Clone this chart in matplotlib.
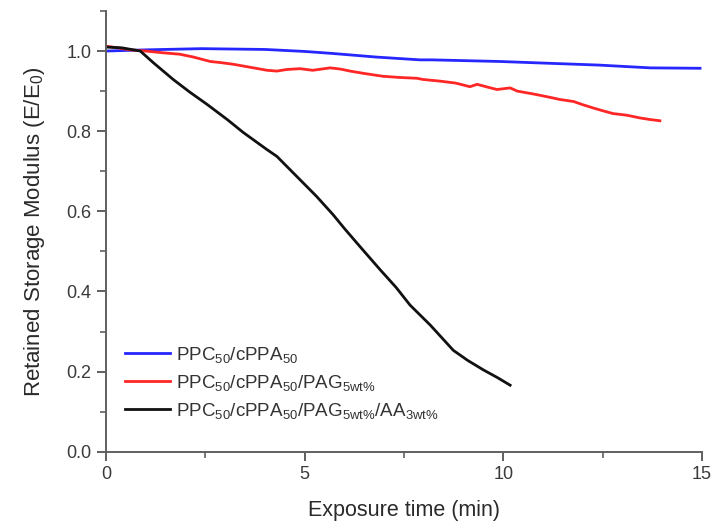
import matplotlib
matplotlib.use("Agg")
import matplotlib.pyplot as plt
from matplotlib.ticker import MultipleLocator

plt.rcParams['font.family'] = ['Liberation Sans', 'DejaVu Sans']
plt.rcParams['mathtext.default'] = 'regular'

# Data
t_blue = [0.0, 1.0, 2.4, 4.0, 5.0, 5.7, 6.8, 7.9, 8.2, 9.9, 11.0, 12.4, 13.7, 14.95]
v_blue = [1.0, 1.003, 1.006, 1.004, 0.999, 0.994, 0.985, 0.978, 0.978, 0.974, 0.970, 0.965, 0.958, 0.957]

t_red = [0.0, 0.3, 0.6, 1.0, 1.4, 1.86, 2.2, 2.62, 2.9, 3.2, 3.6, 4.05, 4.3, 4.55, 4.88, 5.2,
         5.64, 5.9, 6.14, 6.5, 6.97, 7.4, 7.83, 7.98, 8.4, 8.8, 9.16, 9.34, 9.6, 9.84, 10.17,
         10.35, 10.8, 11.1, 11.43, 11.77, 12.0, 12.26, 12.5, 12.76, 13.1, 13.44, 13.7, 13.94]
v_red = [1.012, 1.008, 1.003, 1.0, 0.996, 0.992, 0.985, 0.974, 0.971, 0.967, 0.960, 0.952, 0.950,
         0.954, 0.956, 0.952, 0.958, 0.955, 0.950, 0.944, 0.937, 0.934, 0.932, 0.929, 0.925,
         0.920, 0.911, 0.917, 0.910, 0.904, 0.908, 0.900, 0.892, 0.886, 0.879, 0.874, 0.866,
         0.858, 0.851, 0.844, 0.840, 0.833, 0.829, 0.826]

t_black = [0.0, 0.4, 0.86, 1.2, 1.69, 2.1, 2.54, 3.05, 3.45, 4.05, 4.3, 4.88, 5.3, 5.71, 6.0,
           6.39, 6.9, 7.3, 7.65, 8.16, 8.74, 9.1, 9.5, 9.85, 10.17]
v_black = [1.01, 1.008, 1.0, 0.97, 0.929, 0.898, 0.867, 0.829, 0.797, 0.754, 0.737, 0.679,
           0.637, 0.592, 0.557, 0.512, 0.454, 0.410, 0.366, 0.316, 0.253, 0.228, 0.204,
           0.185, 0.166]

labels = [r'PPC$_{50}$/cPPA$_{50}$',
          r'PPC$_{50}$/cPPA$_{50}$/PAG$_{5wt\%}$',
          r'PPC$_{50}$/cPPA$_{50}$/PAG$_{5wt\%}$/AA$_{3wt\%}$']

fig = plt.figure(figsize=(7.12, 5.23), dpi=100)
ax = fig.add_axes([0.149, 0.1363, 0.837, 0.8427])

ax.plot(t_blue, v_blue, color='#2626ff', lw=2, label=labels[0])
ax.plot(t_red, v_red, color='#ff2626', lw=2, label=labels[1])
ax.plot(t_black, v_black, color='#111111', lw=2, label=labels[2])

ax.set_xlim(0, 15)
ax.set_ylim(0, 1.1)
ax.xaxis.set_major_locator(MultipleLocator(5))
ax.xaxis.set_minor_locator(MultipleLocator(2.5))
ax.yaxis.set_major_locator(MultipleLocator(0.2))
ax.yaxis.set_minor_locator(MultipleLocator(0.1))
ax.yaxis.set_major_formatter(plt.FuncFormatter(lambda v, p: f'{v:.1f}'))
ax.xaxis.set_major_formatter(plt.FuncFormatter(lambda v, p: f'{v:g}'))

spine_c = '#606060'
for s in ['top', 'right']:
    ax.spines[s].set_visible(False)
for s in ['left', 'bottom']:
    ax.spines[s].set_color(spine_c)
    ax.spines[s].set_linewidth(1.4)
ax.tick_params(which='major', direction='out', length=6.5, width=1.4, color=spine_c,
               labelsize=13, labelcolor='#3a3a3a', pad=4)
ax.tick_params(which='minor', direction='out', length=4, width=1.2, color=spine_c)

ax.set_xlabel('Exposure time (min)', fontsize=15.5, color='#2a2a2a', labelpad=12)
ax.set_ylabel(r'Retained Storage Modulus (E/E$_0$)', fontsize=16, color='#2a2a2a', labelpad=14)

ax.legend(loc='upper left', bbox_to_anchor=(0.032, 0.243), frameon=False, fontsize=13.5,
          handlelength=2.4, handletextpad=0.32, labelspacing=0.43, labelcolor='#333333',
          borderaxespad=0.0, borderpad=0.0)

fig.savefig('out.png', dpi=100)
